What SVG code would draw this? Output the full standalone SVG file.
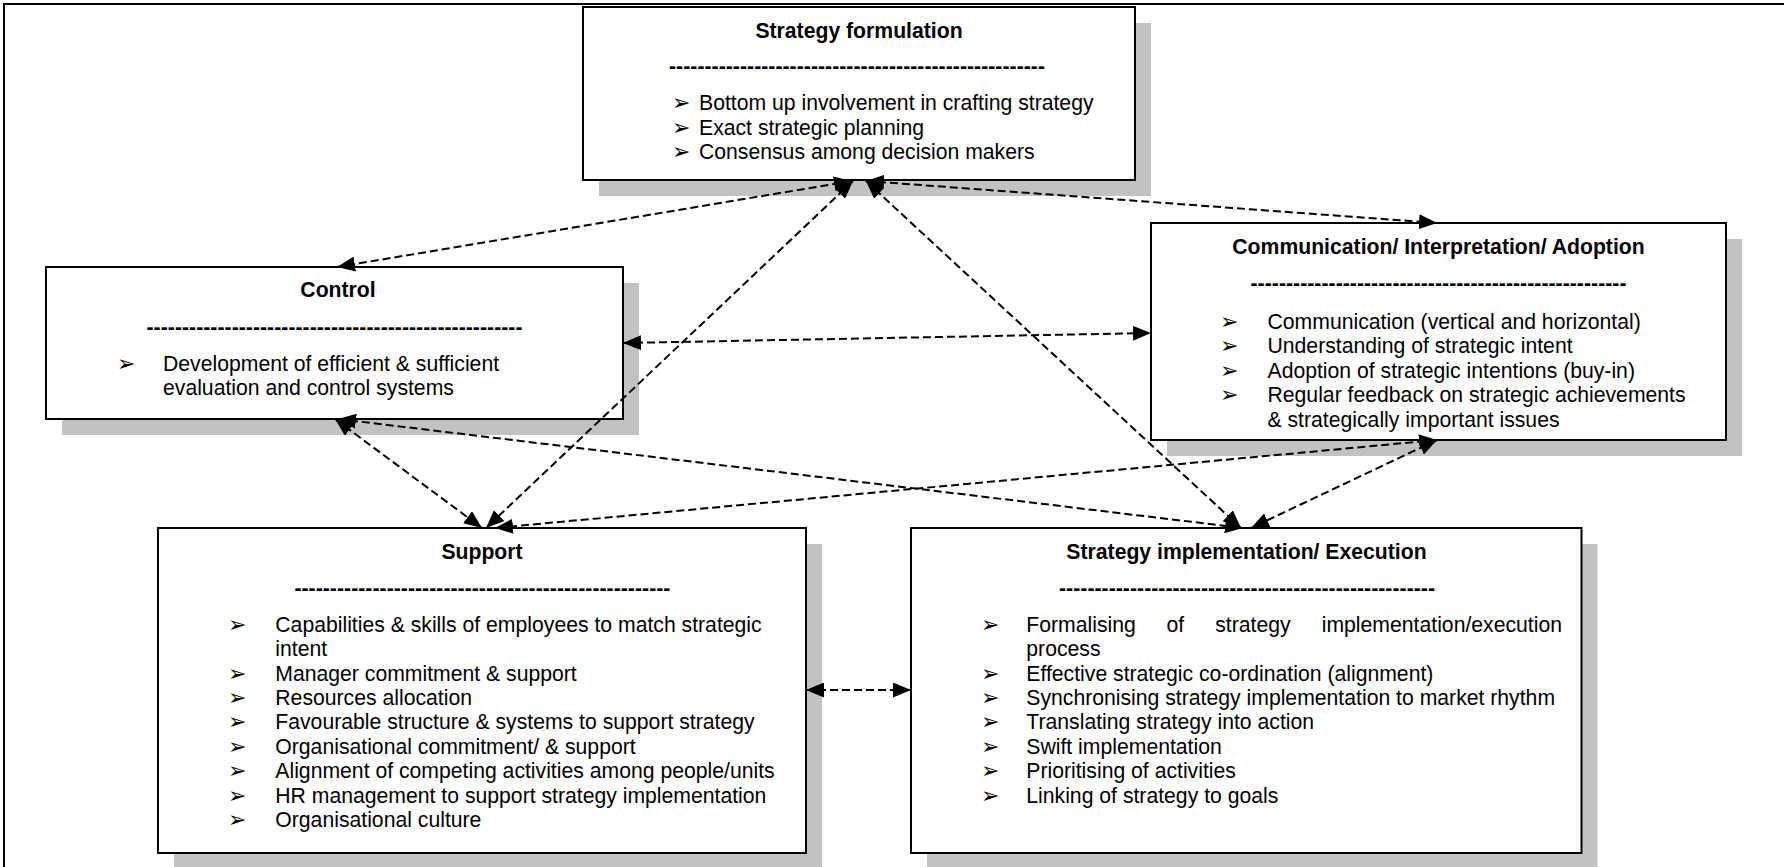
<svg xmlns="http://www.w3.org/2000/svg" width="1784" height="867" viewBox="0 0 1784 867">
<style>
.box{fill:#fff;stroke:#000;stroke-width:2}
.sh{fill:#c2c2c2}
.t{font-family:"Liberation Sans",Arial,sans-serif;font-size:21.2px;fill:#000}
.h{font-weight:bold;text-anchor:middle}
.d{font-weight:bold;text-anchor:middle}
.b{font-family:"DejaVu Sans",sans-serif;font-size:22px;fill:#000}
.c{fill:none;stroke:#000;stroke-width:2;stroke-dasharray:8 4;marker-start:url(#ah);marker-end:url(#ah)}
.frame{fill:none;stroke:#000;stroke-width:2}
</style>
<defs>
<marker id="ah" markerUnits="userSpaceOnUse" markerWidth="18" markerHeight="15" refX="18" refY="7.5" orient="auto-start-reverse" viewBox="0 0 18 15"><path d="M0,0 L18,7.5 L0,15 z" fill="#000"/></marker>
</defs>
<path class="frame" d="M4,867 V4 H1784"/>

<g id="strategy-formulation">
<rect class="sh" x="599" y="23" width="552" height="173"/>
<rect class="box" x="583" y="7" width="552" height="173"/>
<text class="t h" x="859" y="38">Strategy formulation</text>
<text class="t d" x="857" y="73" textLength="376" lengthAdjust="spacing">-----------------------------------------------------</text>
<text class="b" x="672" y="110">➢</text><text class="t" x="699" y="110">Bottom up involvement in crafting strategy</text>
<text class="b" x="672" y="134.5">➢</text><text class="t" x="699" y="134.5">Exact strategic planning</text>
<text class="b" x="672" y="159">➢</text><text class="t" x="699" y="159">Consensus among decision makers</text>
</g>

<g id="control">
<rect class="sh" x="62" y="283" width="577" height="152"/>
<rect class="box" x="46" y="267" width="577" height="152"/>
<text class="t h" x="338" y="297">Control</text>
<text class="t d" x="334.5" y="334" textLength="376" lengthAdjust="spacing">-----------------------------------------------------</text>
<text class="b" x="117" y="371">➢</text><text class="t" x="163" y="371">Development of efficient &amp; sufficient</text>
<text class="t" x="163" y="395">evaluation and control systems</text>
</g>

<g id="communication">
<rect class="sh" x="1167" y="239" width="575" height="217"/>
<rect class="box" x="1151" y="223" width="575" height="217"/>
<text class="t h" x="1438.5" y="254">Communication/ Interpretation/ Adoption</text>
<text class="t d" x="1438.5" y="290" textLength="376" lengthAdjust="spacing">-----------------------------------------------------</text>
<text class="b" x="1220" y="328.5">➢</text><text class="t" x="1267.5" y="328.5">Communication (vertical and horizontal)</text>
<text class="b" x="1220" y="353">➢</text><text class="t" x="1267.5" y="353">Understanding of strategic intent</text>
<text class="b" x="1220" y="377.5">➢</text><text class="t" x="1267.5" y="377.5">Adoption of strategic intentions (buy-in)</text>
<text class="b" x="1220" y="402">➢</text><text class="t" x="1267.5" y="402">Regular feedback on strategic achievements</text>
<text class="t" x="1267.5" y="426.5">&amp; strategically important issues</text>
</g>

<g id="support">
<rect class="sh" x="174" y="544" width="648" height="325"/>
<rect class="box" x="158" y="528" width="648" height="325"/>
<text class="t h" x="482" y="558.5">Support</text>
<text class="t d" x="482.4" y="594.5" textLength="376" lengthAdjust="spacing">-----------------------------------------------------</text>
<text class="b" x="228" y="631.6">➢</text><text class="t" x="275.3" y="631.6">Capabilities &amp; skills of employees to match strategic</text>
<text class="t" x="275.3" y="656.1">intent</text>
<text class="b" x="228" y="680.5">➢</text><text class="t" x="275.3" y="680.5">Manager commitment &amp; support</text>
<text class="b" x="228" y="705">➢</text><text class="t" x="275.3" y="705">Resources allocation</text>
<text class="b" x="228" y="729.4">➢</text><text class="t" x="275.3" y="729.4">Favourable structure &amp; systems to support strategy</text>
<text class="b" x="228" y="753.9">➢</text><text class="t" x="275.3" y="753.9">Organisational commitment/ &amp; support</text>
<text class="b" x="228" y="778.4">➢</text><text class="t" x="275.3" y="778.4">Alignment of competing activities among people/units</text>
<text class="b" x="228" y="802.8">➢</text><text class="t" x="275.3" y="802.8">HR management to support strategy implementation</text>
<text class="b" x="228" y="827.3">➢</text><text class="t" x="275.3" y="827.3">Organisational culture</text>
</g>

<g id="implementation">
<rect class="sh" x="927" y="544" width="670.5" height="325"/>
<rect class="box" x="911" y="528" width="670.5" height="325"/>
<text class="t h" x="1246.5" y="558.5">Strategy implementation/ Execution</text>
<text class="t d" x="1247" y="594.5" textLength="376" lengthAdjust="spacing">-----------------------------------------------------</text>
<text class="b" x="981" y="631.6">➢</text>
<text class="t" x="1026.3" y="631.6">Formalising</text><text class="t" x="1166.5" y="631.6">of</text><text class="t" x="1215.2" y="631.6">strategy</text><text class="t" x="1562" y="631.6" text-anchor="end">implementation/execution</text>
<text class="t" x="1026.3" y="656.1">process</text>
<text class="b" x="981" y="680.5">➢</text><text class="t" x="1026.3" y="680.5">Effective strategic co-ordination (alignment)</text>
<text class="b" x="981" y="705">➢</text><text class="t" x="1026.3" y="705">Synchronising strategy implementation to market rhythm</text>
<text class="b" x="981" y="729.4">➢</text><text class="t" x="1026.3" y="729.4">Translating strategy into action</text>
<text class="b" x="981" y="753.9">➢</text><text class="t" x="1026.3" y="753.9">Swift implementation</text>
<text class="b" x="981" y="778.4">➢</text><text class="t" x="1026.3" y="778.4">Prioritising of activities</text>
<text class="b" x="981" y="802.8">➢</text><text class="t" x="1026.3" y="802.8">Linking of strategy to goals</text>
</g>

<g id="connectors">
<path class="c" d="M852,181 L337,267"/>
<path class="c" d="M866,181 L1437,223"/>
<path class="c" d="M853,181 L486,528"/>
<path class="c" d="M866,181 L1241,528"/>
<path class="c" d="M623,343 L1151,333"/>
<path class="c" d="M335,419 L482,528"/>
<path class="c" d="M338,419 L1243,528"/>
<path class="c" d="M1437,440 L495,528"/>
<path class="c" d="M1437,440 L1251,528"/>
<path class="c" d="M806,690 L911,690"/>
</g>
</svg>
